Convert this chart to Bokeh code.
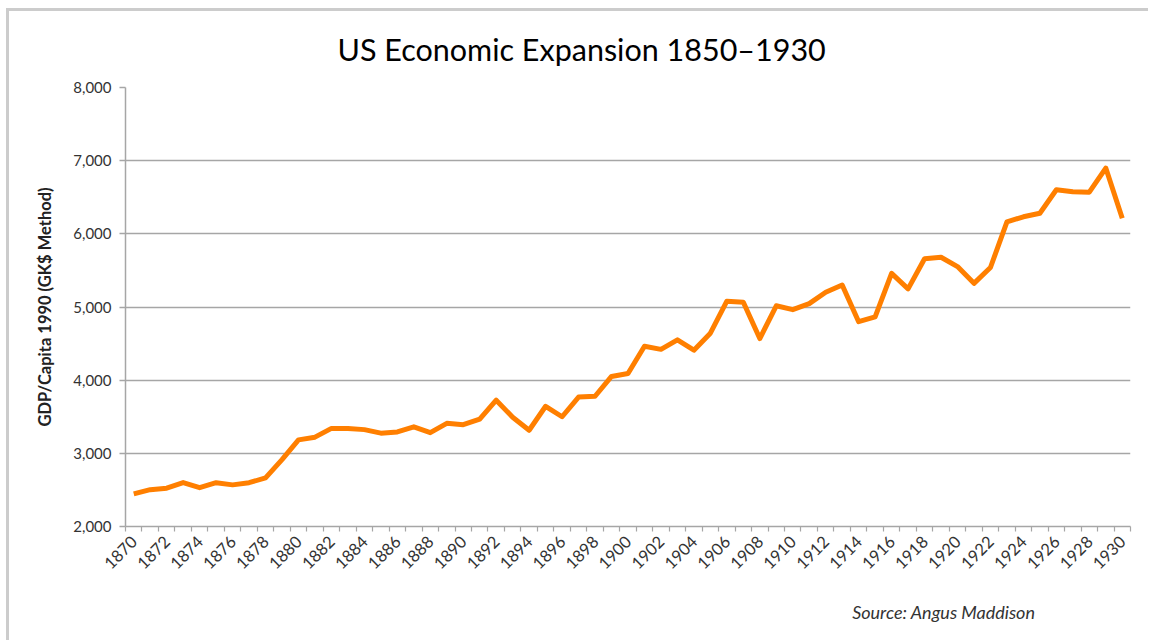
import math
from bokeh.plotting import figure
from bokeh.models import FixedTicker, NumeralTickFormatter, Title, Range1d
from bokeh.embed import file_html
from bokeh.resources import INLINE

years = list(range(1870, 1931))
gdp_per_capita = [
    2445, 2503, 2524, 2601, 2531, 2599, 2569, 2599, 2664, 2914,
    3184, 3221, 3341, 3339, 3324, 3276, 3293, 3363, 3283, 3410,
    3392, 3468, 3726, 3493, 3315, 3643, 3500, 3769, 3780, 4051,
    4091, 4464, 4421, 4551, 4410, 4642, 5079, 5066, 4569, 5017,
    4964, 5046, 5201, 5301, 4799, 4864, 5459, 5248, 5659, 5680,
    5552, 5323, 5540, 6164, 6233, 6282, 6603, 6575, 6569, 6899,
    6213,
]
y_ticks = [2000, 3000, 4000, 5000, 6000, 7000, 8000]
x_label_years = list(range(1870, 1931, 2))

title_text = "US Economic Expansion 1850\u20131930"
y_title = "GDP/Capita 1990 (GK$ Method)"
source_text = "Source: Angus Maddison"

W, H = 1142, 632
p = figure(width=W, height=H, output_backend="svg", toolbar_location=None,
           x_range=Range1d(years[0] - 0.5, years[-1] + 0.5),
           y_range=Range1d(2000, 8000),
           min_border_left=116, min_border_right=21,
           min_border_top=76, min_border_bottom=117)
p.styles = {"margin-left": "6px", "margin-top": "8px",
            "border-left": "3px solid #cccccc", "border-top": "3px solid #cccccc"}
p.outline_line_color = None
p.background_fill_color = "white"
p.border_fill_color = "white"

p.line(years, gdp_per_capita, line_color="#ff7f00", line_width=5, line_join="round")

font = "Lato"
axis_color = "#a6a6a6"

# y axis
p.yaxis.ticker = FixedTicker(ticks=y_ticks)
p.yaxis.formatter = NumeralTickFormatter(format="0,0")
p.yaxis.axis_line_color = axis_color
p.yaxis.axis_line_width = 1.5
p.yaxis.major_tick_line_color = axis_color
p.yaxis.major_tick_line_width = 1.5
p.yaxis.major_tick_out = 6
p.yaxis.major_tick_in = 0
p.yaxis.minor_tick_line_color = None
p.yaxis.major_label_text_font = font
p.yaxis.major_label_text_font_size = "15px"
p.yaxis.major_label_text_color = "#333333"
p.yaxis.major_label_standoff = 8
p.yaxis.axis_label = y_title
p.yaxis.axis_label_text_font = font
p.yaxis.axis_label_text_font_size = "16.5px"
p.yaxis.axis_label_text_font_style = "bold"
p.yaxis.axis_label_text_color = "#222222"
p.yaxis.axis_label_standoff = 15

# x axis
boundaries = [y - 0.5 for y in years] + [years[-1] + 0.5]
p.xaxis.ticker = FixedTicker(ticks=x_label_years, minor_ticks=boundaries)
p.xaxis.axis_line_color = axis_color
p.xaxis.axis_line_width = 1.5
p.xaxis.major_tick_line_color = None
p.xaxis.minor_tick_line_color = axis_color
p.xaxis.minor_tick_line_width = 1.2
p.xaxis.minor_tick_out = 5
p.xaxis.minor_tick_in = 0
p.xaxis.major_label_orientation = math.pi / 4
p.xaxis.major_label_text_font = font
p.xaxis.major_label_text_font_size = "16.5px"
p.xaxis.major_label_text_color = "#333333"
p.xaxis.major_label_standoff = 6

p.xgrid.grid_line_color = None
p.ygrid.ticker = FixedTicker(ticks=y_ticks)
p.ygrid.grid_line_color = axis_color
p.ygrid.grid_line_width = 1.5

p.add_layout(Title(text=title_text, align="left", offset=212, standoff=37,
                   vertical_align="top",
                   text_font=font, text_font_size="30.5px", text_font_style="normal",
                   text_color="#000000"), "above")
p.add_layout(Title(text=source_text, align="right", offset=95, standoff=42,
                   text_font=font, text_font_size="18px", text_font_style="italic",
                   text_color="#333333"), "below")

open("out.html", "w").write(file_html(p, INLINE))
